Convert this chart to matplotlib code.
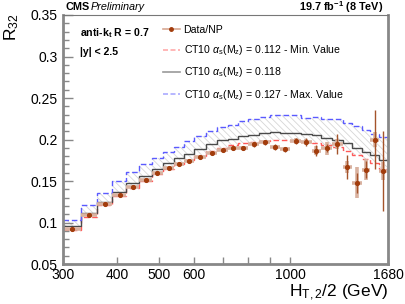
import numpy as np
import matplotlib
matplotlib.use("Agg")
import matplotlib.pyplot as plt
from matplotlib.lines import Line2D
from matplotlib.ticker import FixedLocator, NullFormatter, MultipleLocator

plt.rcParams['font.family'] = ['Liberation Sans', 'DejaVu Sans']
plt.rcParams['mathtext.fontset'] = 'custom'
plt.rcParams['mathtext.rm'] = 'Liberation Sans'
plt.rcParams['mathtext.it'] = 'Liberation Sans:italic'
plt.rcParams['mathtext.bf'] = 'Liberation Sans:bold'
plt.rcParams['hatch.color'] = '#d6d6d6'
plt.rcParams['hatch.linewidth'] = 0.6

# --- bins of H_T,2/2 (GeV) ---
edges = np.array([300, 330, 360, 390, 420, 450, 480, 510, 540, 570, 600,
                  640, 680, 720, 760, 800, 850, 900, 950, 1000, 1060, 1120,
                  1180, 1250, 1320, 1390, 1460, 1530, 1600, 1680])

# --- data / NP ---
r32_data = [0.0922, 0.1093, 0.1227, 0.1330, 0.1427, 0.1512, 0.1597, 0.1652,
            0.1702, 0.1743, 0.1785, 0.1835, 0.1876, 0.1895, 0.1895, 0.1940,
            0.1967, 0.1907, 0.1880, 0.1984, 0.1972, 0.1867, 0.1895, 0.1943,
            0.1671, 0.1478, 0.1635, 0.1996, 0.1623]
err_stat = [0.0005, 0.0005, 0.0006, 0.0006, 0.0007, 0.0008, 0.0009, 0.0010,
            0.0011, 0.0012, 0.0013, 0.0015, 0.0017, 0.0020, 0.0022, 0.0025,
            0.0030, 0.0033, 0.0035, 0.0040, 0.0045, 0.0070, 0.0050, 0.0120,
            0.0145, 0.0120, 0.0100, 0.0355, 0.0480]
err_sys = [0.0005, 0.0005, 0.0006, 0.0006, 0.0007, 0.0008, 0.0009, 0.0010,
           0.0011, 0.0012, 0.0013, 0.0015, 0.0017, 0.0020, 0.0022, 0.0025,
           0.0030, 0.0030, 0.0030, 0.0035, 0.0040, 0.0050, 0.0080, 0.0060,
           0.0070, 0.0187, 0.0125, 0.0090, 0.0110]

# --- CT10 predictions ---
ct10_min = [0.0907, 0.1069, 0.1205, 0.1317, 0.1418, 0.1506, 0.1587, 0.1647,
            0.1707, 0.1759, 0.1805, 0.1859, 0.1900, 0.1928, 0.1952, 0.1964,
            0.1982, 0.1988, 0.1988, 0.1984, 0.1972, 0.1960, 0.1935, 0.1910,
            0.1860, 0.1810, 0.1770, 0.1722, 0.1650]
ct10_mid = [0.0952, 0.1117, 0.1253, 0.1373, 0.1478, 0.1566, 0.1647, 0.1711,
            0.1775, 0.1831, 0.1880, 0.1948, 0.1988, 0.2012, 0.2040, 0.2054,
            0.2078, 0.2088, 0.2080, 0.2080, 0.2064, 0.2052, 0.2020, 0.1998,
            0.1953, 0.1900, 0.1852, 0.1816, 0.1756]
ct10_max = [0.1032, 0.1213, 0.1350, 0.1494, 0.1606, 0.1699, 0.1775, 0.1852,
            0.1912, 0.1980, 0.2040, 0.2106, 0.2150, 0.2180, 0.2220, 0.2241,
            0.2270, 0.2291, 0.2291, 0.2293, 0.2256, 0.2273, 0.2241, 0.2241,
            0.2204, 0.2163, 0.2115, 0.2067, 0.2030]

xticks_major = [300, 400, 500, 600, 1000, 1680]
xticks_minor = [700, 800, 900]

centers = 0.5 * (edges[:-1] + edges[1:])
halfw = 0.5 * (edges[1:] - edges[:-1])

col_data = '#a23c0c'
col_stat = '#a4532a'
col_sys = '#d9b2a0'
col_min = '#ff5a5a'
col_mid = '#4a4a4a'
col_max = '#5a5aff'
col_frame = '#888888'

fig = plt.figure(figsize=(4.05, 3.04), dpi=100)
ax = fig.add_axes([63/405, 1 - 264/304, 325/405, 249/304])

# hatched band between min and max
lo = np.append(ct10_min, ct10_min[-1])
hi = np.append(ct10_max, ct10_max[-1])
ax.fill_between(edges, lo, hi, step='post', facecolor='none',
                edgecolor='#d6d6d6', hatch='\\\\\\\\\\', linewidth=0)

ax.stairs(ct10_min, edges, baseline=None, color=col_min, lw=1.0,
          linestyle=(0, (4, 2)))
ax.stairs(ct10_mid, edges, baseline=None, color=col_mid, lw=1.0)
ax.stairs(ct10_max, edges, baseline=None, color=col_max, lw=1.0,
          linestyle=(0, (4, 2)))

# data: sys (light, thick), stat (dark, thin), marker
ax.errorbar(centers, r32_data, xerr=halfw, yerr=err_sys, fmt='none',
            ecolor=col_sys, elinewidth=2.6, capsize=0)
ax.errorbar(centers, r32_data, yerr=err_stat, fmt='none',
            ecolor=col_stat, elinewidth=1.0, capsize=0)
ax.plot(centers, r32_data, 'o', color=col_data, ms=2.7, mec=col_data)

ax.set_xscale('log')
ax.set_xlim(300, 1680)
ax.set_ylim(0.05, 0.35)
ax.xaxis.set_major_locator(FixedLocator(xticks_major))
ax.xaxis.set_minor_locator(FixedLocator(xticks_minor))
ax.xaxis.set_major_formatter(matplotlib.ticker.FixedFormatter([str(t) for t in xticks_major]))
ax.xaxis.set_minor_formatter(NullFormatter())
ax.yaxis.set_major_locator(MultipleLocator(0.05))
ax.yaxis.set_minor_locator(MultipleLocator(0.01))
ax.set_yticks([0.05, 0.1, 0.15, 0.2, 0.25, 0.3, 0.35],
              ['0.05', '0.1', '0.15', '0.2', '0.25', '0.3', '0.35'])

ax.tick_params(which='both', direction='in', color=col_frame, labelsize=10,
               labelcolor='black')
ax.tick_params(axis='y', which='major', length=7, width=1, pad=4)
ax.tick_params(axis='y', which='minor', length=4, width=1)
ax.tick_params(axis='x', which='both', length=5, width=1, pad=3)

for side in ['left', 'bottom', 'right']:
    ax.spines[side].set_color(col_frame)
    ax.spines[side].set_linewidth(2.0)
ax.spines['top'].set_color('#777777')
ax.spines['top'].set_linewidth(0.8)

# legend
handles = [
    Line2D([], [], color='#d8a892', lw=1.2, marker='o', ms=2.5,
           mfc=col_data, mec=col_data),
    Line2D([], [], color='#ffaaaa', lw=1.2, linestyle=(0, (3, 1.5))),
    Line2D([], [], color='#999999', lw=1.2),
    Line2D([], [], color='#aaaaff', lw=1.2, linestyle=(0, (3, 1.5))),
]
alpha_s = r'$\alpha_{\mathrm{s}}(\mathrm{M}_{\mathrm{z}})$'
labels = [
    'Data/NP',
    'CT10 ' + alpha_s + ' = 0.112 - Min. Value',
    'CT10 ' + alpha_s + ' = 0.118',
    'CT10 ' + alpha_s + ' = 0.127 - Max. Value',
]
ax.legend(handles, labels, loc='upper left',
          bbox_to_anchor=((163 - 63) / 325, (264 - 25) / 249),
          frameon=False, fontsize=7.6, handlelength=1.6, handletextpad=0.35,
          labelspacing=0.78, borderaxespad=0, borderpad=0)

# texts
ax.text((80 - 63) / 325, (264 - 33) / 249, r'anti-k$_{\mathbf{t}}$ R = 0.7',
        transform=ax.transAxes, fontsize=7.6, fontweight='bold',
        ha='left', va='center')
ax.text((80 - 63) / 325, (264 - 52) / 249, '|y| < 2.5',
        transform=ax.transAxes, fontsize=7.6, fontweight='bold',
        ha='left', va='center')

fig.text(65 / 405, 1 - 7 / 304, 'CMS', fontsize=7.8, fontweight='bold',
         ha='left', va='center')
fig.text(91 / 405, 1 - 7 / 304, 'Preliminary', fontsize=7.8, style='italic',
         ha='left', va='center')
fig.text(383 / 405, 1 - 7 / 304, r'19.7 fb$^{\mathbf{-1}}$ (8 TeV)',
         fontsize=7.8, fontweight='bold', ha='right', va='center')

fig.text(12 / 405, 1 - 13 / 304, r'R$_{32}$', fontsize=12.5, rotation=90,
         ha='center', va='top')
fig.text(388 / 405, 1 - 293 / 304, r'H$_{\mathrm{T,2}}$/2 (GeV)', fontsize=12.5,
         ha='right', va='center')

fig.savefig('out.png', dpi=100)
